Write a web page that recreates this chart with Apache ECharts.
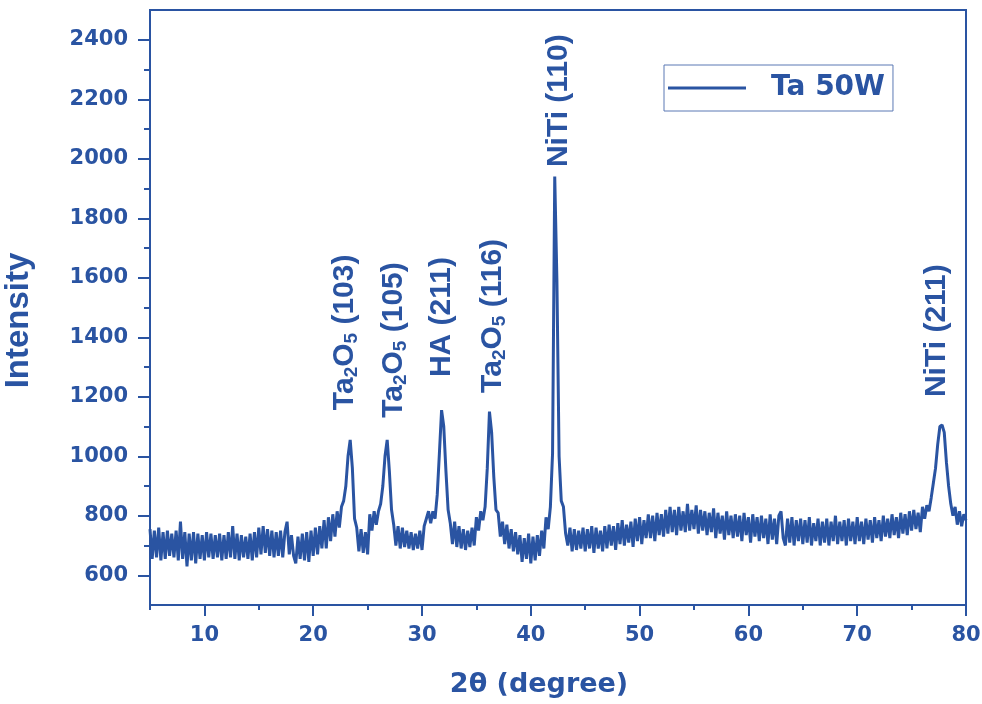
<!DOCTYPE html>
<html lang="en">
<head>
    <meta charset="UTF-8">
    <title>XRD Ta 50W</title>
    <script src="https://cdn.jsdelivr.net/npm/echarts@6/dist/echarts.min.js"></script>
    <style>
        html, body {margin: 0; padding: 0; background: #fff;}
        #xrd {width: 982px; height: 704px;}
    </style>
</head>
<body>
<div id="xrd"></div>
<script>
    // scan: 2theta from 5 to 80 deg, one reading every 0.2 deg
    const startAngle = 5
    const stepAngle = 0.2
    const intensity = [
        755, 655, 750, 660, 760, 650, 745, 655, 750, 665,
        740, 660, 750, 650, 780, 655, 745, 630, 740, 650,
        745, 640, 740, 655, 735, 650, 745, 660, 740, 655,
        735, 660, 740, 650, 735, 655, 745, 660, 765, 655,
        740, 650, 735, 660, 730, 655, 740, 650, 745, 660,
        760, 670, 765, 675, 755, 665, 750, 660, 745, 665,
        750, 660, 745, 780, 670, 735, 665, 640, 730, 655,
        740, 650, 745, 645, 750, 665, 760, 670, 765, 690,
        785, 690, 795, 715, 805, 730, 815, 760, 830, 850,
        900, 1000, 1055, 960, 790, 760, 680, 755, 675, 745,
        670, 805, 750, 815, 770, 815, 840, 900, 1000, 1055,
        950, 820, 770, 700, 765, 690, 760, 695, 750, 690,
        745, 685, 740, 690, 750, 685, 765, 790, 815, 775,
        815, 790, 870, 1010, 1155, 1100, 950, 820, 775, 705,
        780, 695, 765, 690, 755, 685, 750, 695, 760, 700,
        795, 750, 815, 785, 830, 960, 1150, 1080, 930, 820,
        810, 730, 780, 705, 770, 690, 755, 680, 745, 670,
        735, 645, 725, 655, 740, 640, 730, 650, 735, 665,
        750, 690, 795, 755, 830, 1010, 1940, 1590, 1000, 850,
        830, 740, 700, 760, 680, 755, 685, 750, 690, 760,
        680, 755, 690, 765, 675, 760, 690, 750, 680, 765,
        690, 770, 700, 765, 685, 775, 705, 785, 700, 770,
        710, 780, 695, 790, 715, 795, 705, 785, 725, 805,
        725, 800, 715, 810, 735, 805, 730, 820, 740, 830,
        745, 820, 735, 830, 750, 815, 745, 840, 750, 820,
        755, 835, 740, 820, 750, 815, 735, 810, 745, 825,
        725, 810, 740, 800, 720, 815, 735, 800, 725, 805,
        730, 800, 715, 810, 735, 795, 710, 805, 730, 795,
        715, 800, 725, 790, 705, 805, 720, 790, 705, 800,
        815, 725, 700, 790, 710, 795, 700, 785, 715, 790,
        705, 785, 710, 795, 700, 775, 715, 790, 700, 780,
        710, 790, 700, 780, 715, 800, 705, 780, 715, 785,
        700, 790, 715, 780, 705, 795, 715, 780, 705, 790,
        720, 785, 710, 795, 725, 785, 715, 800, 730, 790,
        725, 805, 735, 795, 725, 810, 740, 805, 735, 815,
        750, 820, 755, 810, 745, 830, 790, 835, 815, 860,
        910, 960, 1040, 1100, 1105, 1080, 980, 900, 840, 800,
        830, 770, 815, 765, 805, 785
    ]

    const xMajor = [10, 20, 30, 40, 50, 60, 70, 80]
    const xMinor = [5, 15, 25, 35, 45, 55, 65, 75]
    const yMajor = [600, 800, 1000, 1200, 1400, 1600, 1800, 2000, 2200, 2400]
    const yMinor = [700, 900, 1100, 1300, 1500, 1700, 1900, 2100, 2300]

    // peak labels (rich text for subscripts), anchored where the label text starts
    const peakNames = ['Ta{s|2}O{s|5} (103)', 'Ta{s|2}O{s|5} (105)', 'HA (211)',
        'Ta{s|2}O{s|5} (116)', 'NiTi (110)', 'NiTi (211)']
    const peakX = [22.9, 27.4, 31.8, 36.5, 42.6, 77.3]
    const peakY = [1155, 1129, 1266, 1213, 1972, 1199]

    const blue = '#2a54a2'
    const font = 'DejaVu Sans'

    let scan = intensity.map((v, i) => [+(startAngle + i * stepAngle).toFixed(1), v])
    let labels = peakNames.map((n, i) => ({value: [peakX[i], peakY[i]], name: n}))

    let chart = echarts.init(document.getElementById('xrd'))

    let axisLine = {show: true, lineStyle: {color: blue, width: 2}}

    chart.setOption({
        animation: false,
        backgroundColor: '#fff',
        grid: {
            left: 150, right: 16, top: 10, bottom: 99,
            outerBoundsMode: 'none',
            show: true, borderColor: blue, borderWidth: 2
        },
        legend: {
            left: 664, top: 65,
            padding: [9, 8, 9, 4],
            borderColor: '#5b79b4', borderWidth: 1,
            itemWidth: 78, itemHeight: 3,
            textStyle: {
                color: blue, fontFamily: font, fontWeight: 'bold', fontSize: 28,
                padding: [0, 0, 0, 20]
            },
            data: [{name: 'Ta 50W', icon: 'rect'}]
        },
        xAxis: [{
            type: 'value', min: 5, max: 80, position: 'bottom',
            name: '2θ (degree)', nameLocation: 'middle', nameGap: 66,
            nameTextStyle: {
                color: blue, fontFamily: font, fontWeight: 'bold', fontSize: 27,
                padding: [0, 38, 0, 0]
            },
            axisLine: axisLine,
            axisTick: {show: true, length: 11, lineStyle: {color: blue, width: 2}, customValues: xMajor},
            axisLabel: {
                color: blue, fontFamily: font, fontWeight: 'bold', fontSize: 21, margin: 20,
                customValues: xMajor, formatter: v => String(v)
            },
            splitLine: {show: false}
        }, {
            type: 'value', min: 5, max: 80, position: 'bottom',
            axisLine: axisLine,
            axisTick: {show: true, length: 5, lineStyle: {color: blue, width: 2}, customValues: xMinor},
            axisLabel: {show: false},
            splitLine: {show: false}
        }],
        yAxis: [{
            type: 'value', min: 500, max: 2500, position: 'left',
            name: 'Intensity', nameLocation: 'middle', nameGap: 115,
            nameTextStyle: {
                color: blue, fontFamily: 'Liberation Sans', fontWeight: 'bold', fontSize: 33,
                padding: [0, 26, 0, 0]
            },
            axisLine: axisLine,
            axisTick: {show: true, length: 12, lineStyle: {color: blue, width: 2}, customValues: yMajor},
            axisLabel: {
                color: blue, fontFamily: font, fontWeight: 'bold', fontSize: 21, margin: 22,
                customValues: yMajor, formatter: v => String(v)
            },
            splitLine: {show: false}
        }, {
            type: 'value', min: 500, max: 2500, position: 'left',
            axisLine: axisLine,
            axisTick: {show: true, length: 6, lineStyle: {color: blue, width: 2}, customValues: yMinor},
            axisLabel: {show: false},
            splitLine: {show: false}
        }],
        series: [{
            name: 'Ta 50W',
            type: 'line',
            data: scan,
            symbol: 'none',
            lineStyle: {color: blue, width: 3},
            itemStyle: {color: blue}
        }, {
            type: 'scatter',
            data: labels,
            symbolSize: 0,
            silent: true,
            itemStyle: {opacity: 1, color: blue},
            label: {
                show: true,
                position: 'inside',
                rotate: 90,
                align: 'left',
                verticalAlign: 'middle',
                formatter: p => p.name,
                color: blue,
                opacity: 1,
                fontFamily: 'Liberation Sans',
                fontWeight: 'bold',
                fontSize: 30,
                lineHeight: 34,
                rich: {
                    s: {
                        color: blue, fontFamily: 'Liberation Sans', fontWeight: 'bold',
                        fontSize: 19, lineHeight: 34, verticalAlign: 'bottom'
                    }
                }
            }
        }]
    })
</script>
</body>
</html>
